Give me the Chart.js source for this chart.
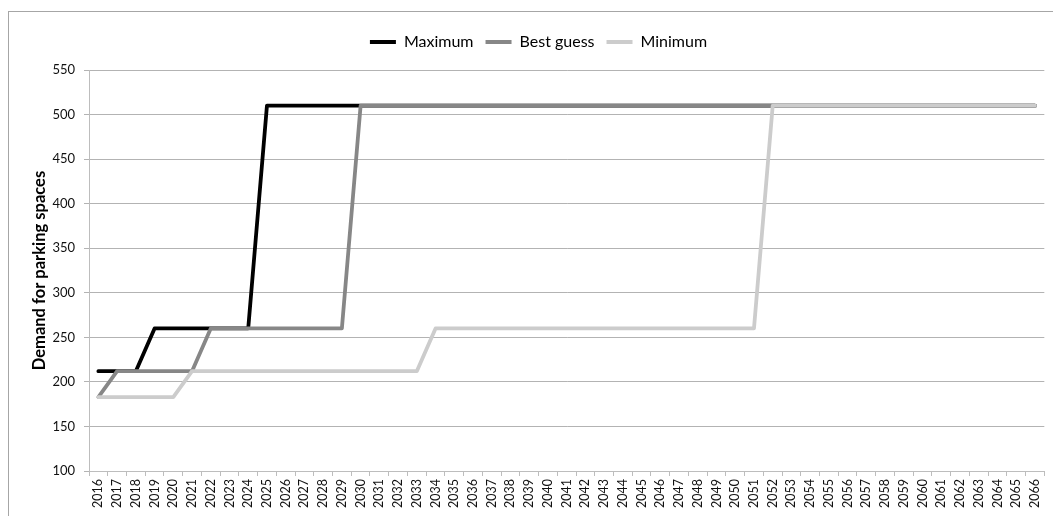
<!DOCTYPE html>
<html>
<head>
<meta charset="utf-8">
<script src="https://cdn.jsdelivr.net/npm/chart.js@4"></script>
<style>
  html, body { margin: 0; padding: 0; background: #fff; }
  #wrap { position: relative; width: 1053px; height: 516px; }
</style>
</head>
<body>
<div id="wrap"><canvas id="c" width="1053" height="516"></canvas></div>
<script>
const years = [];
for (let y = 2016; y <= 2066; y++) years.push(String(y));

const maximum = [212,212,212,260,260,260,260,260,260,510,510,510,510,510,510,510,510,510,510,510,510,510,510,510,510,510,510,510,510,510,510,510,510,510,510,510,510,510,510,510,510,510,510,510,510,510,510,510,510,510,510];
const bestGuess = [183,212,212,212,212,212,260,260,260,260,260,260,260,260,510,510,510,510,510,510,510,510,510,510,510,510,510,510,510,510,510,510,510,510,510,510,510,510,510,510,510,510,510,510,510,510,510,510,510,510,510];
const minimum = [183,183,183,183,183,212,212,212,212,212,212,212,212,212,212,212,212,212,260,260,260,260,260,260,260,260,260,260,260,260,260,260,260,260,260,260,510,510,510,510,510,510,510,510,510,510,510,510,510,510,510];
const yTicks = [100,150,200,250,300,350,400,450,500,550];

const FONT = 'Lato, "Open Sans", sans-serif';

const framePlugin = {
  id: 'frame',
  afterInit(chart) {
    const lg = chart.legend;
    if (lg && !lg._patched) {
      const orig = lg.fit;
      lg.fit = function () { orig.call(this); this.height += 10; };
      lg._patched = true;
    }
  },
  beforeDraw(chart) {
    const ctx = chart.ctx;
    ctx.save();
    ctx.fillStyle = '#ffffff';
    ctx.fillRect(0, 0, chart.width, chart.height);
    ctx.strokeStyle = '#a6a6a6';
    ctx.lineWidth = 1;
    ctx.strokeRect(8.5, 11.5, 1060, 600);
    ctx.restore();
  }
};

new Chart(document.getElementById('c'), {
  type: 'line',
  data: {
    labels: years,
    datasets: [
      { label: 'Maximum', data: maximum, borderColor: '#000000', backgroundColor: '#000000', pointBorderColor: '#000000', pointBorderWidth: 4, order: 3 },
      { label: 'Best guess', data: bestGuess, borderColor: '#878787', backgroundColor: '#878787', pointBorderColor: '#878787', pointBorderWidth: 4, order: 2 },
      { label: 'Minimum', data: minimum, borderColor: '#cccccc', backgroundColor: '#cccccc', pointBorderColor: '#cccccc', pointBorderWidth: 4, order: 1 }
    ]
  },
  options: {
    responsive: false,
    animation: false,
    devicePixelRatio: 1,
    layout: { padding: { left: 29, right: 5, top: 22, bottom: 0 } },
    elements: {
      line: { borderWidth: 3.8, tension: 0, borderCapStyle: 'round', borderJoinStyle: 'round', fill: false },
      point: { radius: 0, hoverRadius: 0 }
    },
    plugins: {
      tooltip: { enabled: false },
      legend: {
        position: 'top',
        align: 'center',
        labels: {
          usePointStyle: true,
          pointStyle: 'line',
          pointStyleWidth: 26,
          boxHeight: 4,
          padding: 12,
          color: '#000',
          font: { family: FONT, size: 16 },
          sort: (a, b) => a.datasetIndex - b.datasetIndex
        }
      }
    },
    scales: {
      x: {
        type: 'category',
        offset: true,
        afterFit: (s) => { s.height = 45; },
        grid: { display: true, drawOnChartArea: false, drawTicks: true, tickLength: 5, offset: true, color: '#bdbdbd' },
        border: { display: true, color: '#bdbdbd', width: 1 },
        ticks: {
          autoSkip: false, maxRotation: 90, minRotation: 90, padding: 3,
          color: '#111', font: { family: FONT, size: 12.5 }
        }
      },
      y: {
        min: 100, max: 550,
        afterFit: (s) => { s.width = 60; },
        afterBuildTicks: (s) => { s.ticks = yTicks.map(v => ({ value: v })); },
        grid: { color: '#b3b3b3', drawTicks: true, tickLength: 5 },
        border: { display: true, color: '#bdbdbd', width: 1 },
        ticks: { padding: 9, color: '#111', font: { family: FONT, size: 13 } },
        title: {
          display: true, text: 'Demand for parking spaces', color: '#000',
          font: { family: FONT, size: 16.5, weight: 'bold' }, padding: { top: 1, bottom: 5 }
        }
      }
    }
  },
  plugins: [framePlugin]
});
</script>
</body>
</html>
